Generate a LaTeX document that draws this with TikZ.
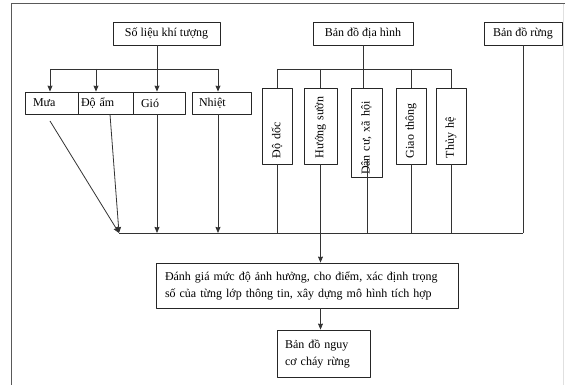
\documentclass[tikz,border=0pt]{standalone}
\usepackage{fontspec}
\setmainfont{Liberation Serif}
\usetikzlibrary{arrows.meta}
\tikzset{
  every picture/.style={line join=round, >={Stealth[length=6pt,width=5pt,inset=0.5pt]}},
  box/.style={draw=black!85, line width=0.8pt, rectangle, inner xsep=7pt, inner ysep=0pt, align=left, font=\fontsize{12}{17}\selectfont},
  vbox/.style={box, rotate=90, inner xsep=6pt, text width=64pt},
  link/.style={draw=black!80, line width=0.8pt},
  frame/.style={draw=black!65, line width=1pt},
}

\begin{document}
\begin{tikzpicture}[x=1pt,y=-1pt]
\useasboundingbox (0,0) rectangle (565,385);
\draw[frame](11,385)--(11,4)--(565,4);
\draw[draw=black!12](563,4)--(563,385);
\node[box,align=center,minimum width=107pt,minimum height=23pt](slkt)at(166.5,33.5){Số liệu khí tượng};
\node[box,align=center,minimum width=100pt,minimum height=23pt](bddh)at(363,33.5){Bản đồ địa hình};
\node[box,align=center,minimum width=78pt,minimum height=23pt](bdr)at(523,33.5){Bản đồ rừng};
\node[box,inner xsep=8pt,text width=37pt,minimum height=22pt](mua)at(51.5,103){Mưa};
\node[box,inner xsep=3pt,text width=49pt,minimum height=22pt](doam)at(105.5,103){Độ ẩm};
\node[box,inner xsep=8pt,text width=36pt,minimum height=22pt](gio)at(159,103){Gió};
\node[box,text width=45pt,minimum height=22pt](nhiet)at(221.5,103){Nhiệt};
\node[vbox,minimum height=30pt](dodoc)at(277,126){Độ dốc};
\node[vbox,minimum height=33pt](huong)at(320.5,126){Hướng sườn};
\node[vbox,inner xsep=2pt,text width=85pt,minimum height=31pt](danc)at(366.5,132.5){Dân cư, xã hội};
\node[vbox,minimum height=30pt](giaoth)at(411,126){Giao thông};
\node[vbox,minimum height=30pt](thuyhe)at(451,126){Thủy hệ};
\node[box,inner xsep=9pt,text width=284pt,minimum height=45pt](danhgia)at(307,285.5){Đánh giá mức độ ảnh hưởng, cho điểm, xác định trọng\\số của từng lớp thông tin, xây dựng mô hình tích hợp};
\node[box,inner xsep=8pt,text width=77pt,minimum height=47pt](nguyco)at(323.5,353.5){Bản đồ nguy\\cơ cháy rừng};
\coordinate(m1)at(50,69);
\coordinate(m2)at(96,69);
\coordinate(tb1)at(157,69);
\coordinate(m4)at(218,69);
\coordinate(tb2)at(363,69);
\coordinate(b1)at(119,233);
\coordinate(b2)at(523,233);
\coordinate(mx)at(50,121);
\coordinate(dcin)at(367,160);
\draw[link](slkt.south -| tb1)--(tb1);
\draw[link](m1)--(m4);
\draw[link,->](m1)--(m1 |- mua.north);
\draw[link,->](m2)--(m2 |- doam.north);
\draw[link,->](tb1)--(tb1 |- gio.north);
\draw[link,->](m4)--(m4 |- nhiet.north);
\draw[link](bddh)--(tb2);
\draw[link](dodoc.east |- tb2)--(thuyhe.east |- tb2);
\draw[link](dodoc.east |- tb2)--(dodoc.east);
\draw[link](huong.east |- tb2)--(huong.east);
\draw[link](tb2)--(tb2 |- danc.east);
\draw[link](giaoth.east |- tb2)--(giaoth.east);
\draw[link](thuyhe.east |- tb2)--(thuyhe.east);
\draw[link](b1)--(b2);
\draw[link,->](mx)--(b1);
\draw[link,->]([xshift=4.5pt]doam.south)--(b1);
\draw[link,->](tb1 |- gio.south)--(tb1 |- b1);
\draw[link,->](m4 |- nhiet.south)--(m4 |- b1);
\draw[link](dodoc.west)--(dodoc.west |- b1);
\draw[link,->](huong.west)--(huong.west |- danhgia.north);
\draw[link](dcin)--(dcin |- b1);
\draw[link](giaoth.west)--(giaoth.west |- b1);
\draw[link](thuyhe.west)--(thuyhe.west |- b1);
\draw[link](bdr)--(bdr |- b1);
\draw[link,->](danhgia.south -| huong.west)--(nguyco.north -| huong.west);
\end{tikzpicture}
\end{document}
